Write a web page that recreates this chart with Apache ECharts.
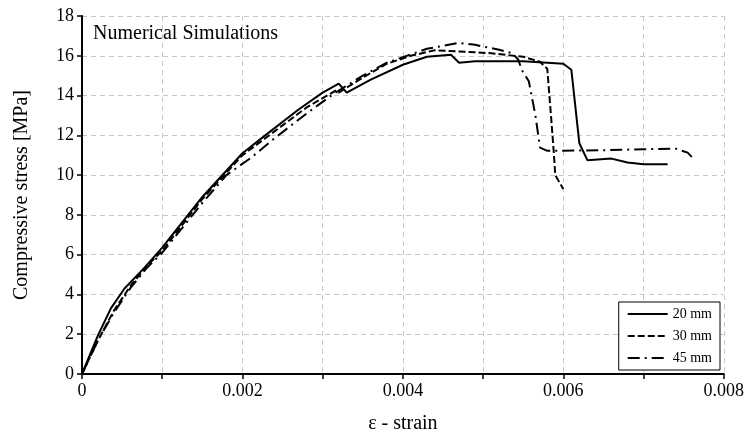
<!DOCTYPE html>
<html>
<head>
<meta charset="utf-8">
<script src="https://cdn.jsdelivr.net/npm/echarts@6/dist/echarts.min.js"></script>
<style>
  html, body { margin: 0; padding: 0; background: #fff; }
  #chart { width: 747px; height: 439px; }
</style>
</head>
<body>
<div id="chart"></div>
<script>
// values
const strain20 = [0, 0.0002, 0.00036, 0.00053, 0.00078, 0.001, 0.0015, 0.002, 0.0023, 0.0027, 0.003, 0.0032, 0.0033, 0.0036, 0.004, 0.0043, 0.0046, 0.0047, 0.0049, 0.0055, 0.006, 0.0061, 0.0062, 0.0063, 0.0066, 0.0068, 0.007, 0.0073]
const stress20 = [0, 1.95, 3.3, 4.3, 5.35, 6.35, 8.9, 11.1, 12.05, 13.3, 14.15, 14.6, 14.15, 14.8, 15.55, 15.95, 16.05, 15.65, 15.72, 15.72, 15.6, 15.3, 11.6, 10.75, 10.83, 10.63, 10.55, 10.55]

const strain30 = [0, 0.0002, 0.0004, 0.0006, 0.0008, 0.001, 0.0015, 0.002, 0.0025, 0.0028, 0.0031, 0.00316, 0.0032, 0.0035, 0.0038, 0.0041, 0.0044, 0.0047, 0.0051, 0.0055, 0.0057, 0.0058, 0.00585, 0.00588, 0.0059, 0.006]
const stress30 = [0, 1.7, 3.2, 4.4, 5.4, 6.2, 8.8, 11.0, 12.5, 13.4, 14.1, 14.25, 14.15, 14.9, 15.6, 16.0, 16.28, 16.22, 16.13, 15.95, 15.72, 15.35, 12.8, 11.2, 10.0, 9.3]

const strain45 = [0, 0.0002, 0.0004, 0.0006, 0.0008, 0.001, 0.0015, 0.0018, 0.0021, 0.0024, 0.0028, 0.00316, 0.0035, 0.0038, 0.0043, 0.0047, 0.0049, 0.0052, 0.00536, 0.00544, 0.00548, 0.00557, 0.00565, 0.00571, 0.0058, 0.0065, 0.007, 0.0074, 0.00755, 0.00763]
const stress45 = [0, 1.7, 3.1, 4.3, 5.3, 6.1, 8.6, 10.0, 10.85, 11.85, 13.1, 14.15, 15.0, 15.65, 16.35, 16.65, 16.55, 16.3, 16.13, 15.8, 15.3, 14.72, 13.05, 11.38, 11.22, 11.25, 11.3, 11.33, 11.13, 10.8]

const seriesNames = ["20 mm", "30 mm", "45 mm"]
const dashTypes = ["solid", [7, 3], [12, 5, 2, 5]]

const zip = (xs, ys) => xs.map((x, i) => [x, ys[i]])
const curves = [zip(strain20, stress20), zip(strain30, stress30), zip(strain45, stress45)]

const serif = "'Liberation Serif', 'DejaVu Serif', serif"
const gridLine = { show: true, lineStyle: { color: "#c8c8c8", type: [5, 4], width: 1 } }

const chart = echarts.init(document.getElementById("chart"), null, { renderer: "canvas" })

chart.setOption({
  animation: false,
  backgroundColor: "#fff",
  grid: { left: 82, right: 21, top: 16, bottom: 63 },
  graphic: [{
    type: "text",
    left: 93,
    top: 24,
    style: { text: "Numerical Simulations", font: "20px " + serif, fill: "#000" }
  }],
  legend: {
    orient: "vertical",
    right: 27,
    bottom: 69,
    itemWidth: 40,
    itemHeight: 14,
    itemGap: 8,
    padding: [5, 8, 5, 8],
    borderColor: "#000",
    borderWidth: 1,
    backgroundColor: "#fff",
    // hide the marker dot, keep only the line sample
    itemStyle: { color: "rgba(0,0,0,0)", borderWidth: 0, borderColor: "rgba(0,0,0,0)" },
    textStyle: { fontFamily: serif, fontSize: 14, color: "#000" },
    data: seriesNames
  },
  xAxis: {
    type: "value",
    min: 0,
    max: 0.008,
    interval: 0.001,
    name: "ε - strain",
    nameLocation: "middle",
    nameGap: 40,
    nameTextStyle: { fontFamily: serif, fontSize: 20, color: "#000" },
    axisLine: { show: true, onZero: false, lineStyle: { color: "#000", width: 2 } },
    axisTick: { show: true, length: 5, lineStyle: { color: "#000", width: 1.5 } },
    axisLabel: {
      fontFamily: serif, fontSize: 18, color: "#000", margin: 8,
      formatter: v => {
        const k = Math.round(v * 1000)
        if (k % 2 !== 0) return ""
        return k === 0 ? "0" : (k / 1000).toFixed(3)
      }
    },
    splitLine: gridLine
  },
  yAxis: {
    type: "value",
    min: 0,
    max: 18,
    interval: 2,
    name: "Compressive stress [MPa]",
    nameLocation: "middle",
    nameGap: 50,
    nameTextStyle: { fontFamily: serif, fontSize: 20, color: "#000" },
    axisLine: { show: true, onZero: false, lineStyle: { color: "#000", width: 2 } },
    axisTick: { show: true, length: 5, lineStyle: { color: "#000", width: 1.5 } },
    axisLabel: { fontFamily: serif, fontSize: 18, color: "#000", margin: 8 },
    splitLine: gridLine
  },
  series: curves.map((data, i) => ({
    name: seriesNames[i],
    type: "line",
    data,
    showSymbol: false,
    symbol: "none",
    z: 10 - i,
    lineStyle: { color: "#000", width: 2, type: dashTypes[i] },
    itemStyle: { color: "#000" }
  }))
})
</script>
</body>
</html>
